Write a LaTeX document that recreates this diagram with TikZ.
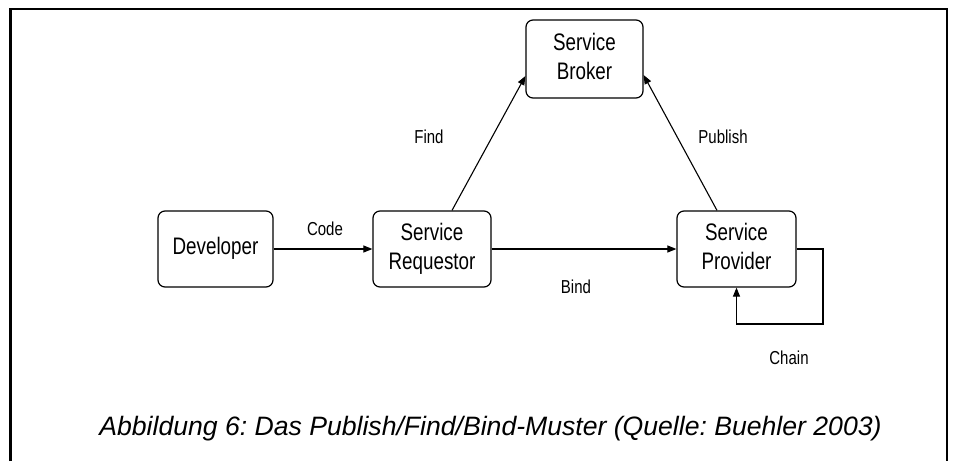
\documentclass[tikz,border=0pt]{standalone}
\usepackage{fontspec}
\setmainfont{Liberation Sans}
\usetikzlibrary{arrows.meta}
\frenchspacing
% tall, narrow lettering used inside the boxes and on the connectors
\newcommand{\boxtext}[1]{\scalebox{1}[1.27]{\fontsize{18.8}{23.5}\selectfont\begin{tabular}{@{}c@{}}#1\end{tabular}}}
\newcommand{\edgetext}[1]{\scalebox{1}[1.25]{\fontsize{15}{18}\selectfont #1}}
\begin{document}
\begin{tikzpicture}[x=1pt,y=-1pt,
  block/.style={draw, line width=1.2pt, rounded corners=7pt, inner sep=0pt,
                minimum width=117pt, minimum height=76pt},
  link/.style={line width=1.1pt, -{Triangle[length=9pt,width=7pt]}},
  tag/.style={inner sep=0pt, anchor=base}]
\useasboundingbox (0,0) rectangle (956,461);

% frame
\draw[line width=2.6pt] (10.5,461) -- (10.5,9) -- (947,9) -- (947,461);

% boxes
\node[block, minimum height=78pt] (broker)    at (584.5,59)  {\boxtext{Service\\Broker}};
\node[block, minimum width=115pt] (developer) at (215.5,249) {\boxtext{Developer}};
\node[block, minimum width=118pt] (requestor) at (432,249)   {\boxtext{Service\\Requestor}};
\node[block, minimum width=119pt] (provider)  at (736.5,249) {\boxtext{Service\\Provider}};

% connectors
\draw[link] (developer) -- (requestor);
\draw[link] (requestor) -- (provider);
\draw[link] ([xshift=20pt]requestor.north) -- ([yshift=-17pt]broker.west);
\draw[link] ([xshift=-19.5pt]provider.north) -- ([yshift=-16pt]broker.east);
\draw[link] (provider.east) -| (823,324) -| (provider.south);

% connector labels
\node[tag] (lcode)    at (325,235) {\edgetext{Code}};
\node[tag] (lfind)    at (429,143) {\edgetext{Find}};
\node[tag] (lpublish) at (723,143) {\edgetext{Publish}};
\node[tag] (lbind)    at (576,293) {\edgetext{Bind}};
\node[tag] (lchain)   at (789,364) {\edgetext{Chain}};

% caption
\node[tag] (caption) at (490.5,435)
  {\fontsize{26.6}{30}\selectfont\itshape Abbildung 6: Das Publish/Find/Bind-Muster (Quelle: Buehler 2003)};
\end{tikzpicture}
\end{document}
